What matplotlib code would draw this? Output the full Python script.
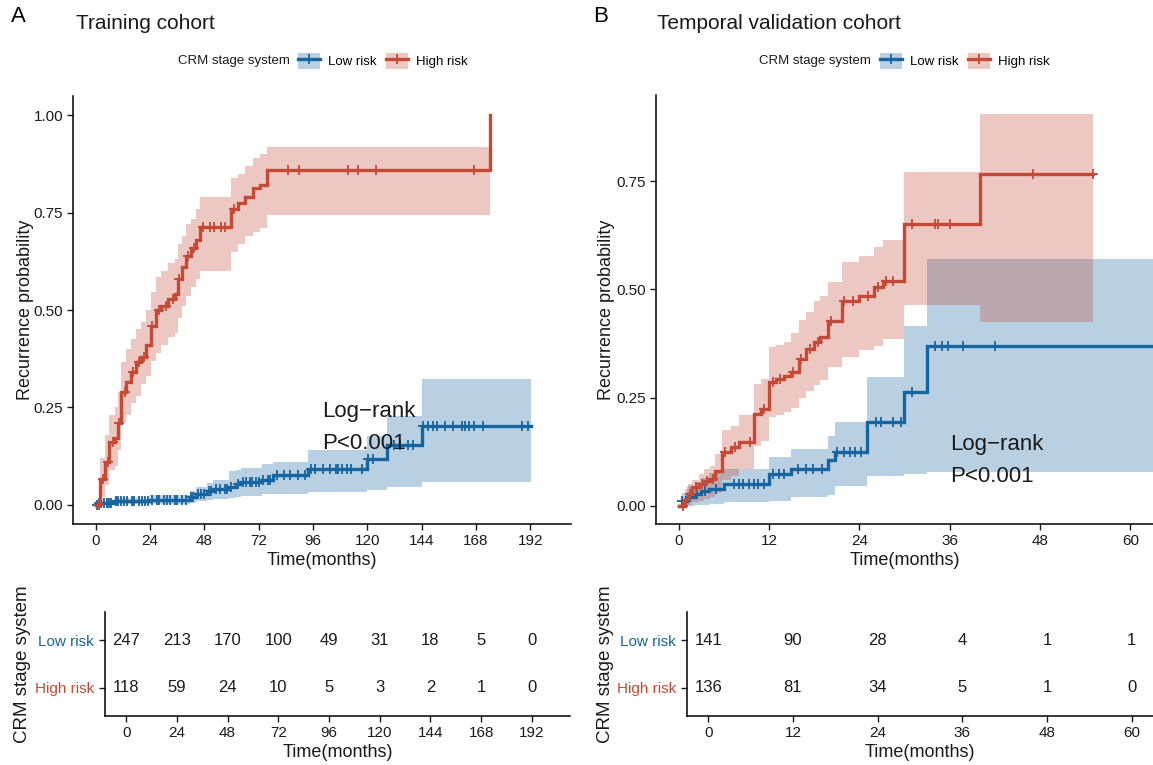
import numpy as np
import matplotlib
matplotlib.use('Agg')
import matplotlib.pyplot as plt
from matplotlib.patches import Patch
from matplotlib.lines import Line2D

plt.rcParams['font.family'] = ['Liberation Sans', 'DejaVu Sans']

BLUE = '#1665A0'
RED = '#C44A37'
INK = '#1a1a1a'

# ---- training cohort (A) ----
a_low_t = [0, 1.0, 8, 24, 41.5, 44.5, 49, 52, 59, 62, 64, 73.6, 78.5, 94, 120, 128.6, 144]
a_low_p = [0, 0.004, 0.008, 0.012, 0.02, 0.028, 0.034, 0.041, 0.046, 0.052, 0.058, 0.064, 0.075, 0.092, 0.118, 0.152, 0.202]
a_low_hi = [0, 0.011, 0.018, 0.024, 0.036, 0.046, 0.055, 0.064, 0.085, 0.09, 0.095, 0.105, 0.11, 0.141, 0.177, 0.228, 0.322]
a_low_lo = [0, 0, 0.001, 0.002, 0.005, 0.009, 0.012, 0.015, 0.016, 0.02, 0.022, 0.026, 0.028, 0.033, 0.037, 0.046, 0.059]
a_low_end = 192.5
a_low_cens = [0.5, 1.5, 2.5, 3.5, 5, 6, 7, 9, 10, 11, 12.5, 14, 16, 17, 19, 20.5, 22, 23, 25, 27, 28, 30,
              31.5, 33, 35, 36, 38, 40, 42, 43, 45, 46.5, 48, 50, 51, 53, 55, 57, 58, 60, 63, 65, 66.5, 68,
              69, 71, 72, 74, 76, 77, 80, 83, 86, 89.5, 92.5, 95, 97, 100.5, 103.5, 106, 107, 109, 111,
              113, 117.7, 120.4, 122.6, 132, 134.5, 138, 140, 144.7, 147, 149, 151, 154.4, 158, 162, 163,
              165, 167, 171, 188.5, 191]

a_high_t = [0, 1.8, 4, 6, 8.4, 9.8, 11.4, 13.6, 15.8, 18, 20, 22.4, 24.6, 26.8, 29, 32, 35, 36.4, 38, 40,
            42.3, 44.5, 46, 60, 63, 66, 69.6, 72.6, 75.5, 174.3]
a_high_p = [0, 0.066, 0.11, 0.16, 0.17, 0.21, 0.29, 0.315, 0.34, 0.366, 0.38, 0.41, 0.46, 0.50, 0.51, 0.527,
            0.54, 0.58, 0.61, 0.64, 0.66, 0.68, 0.713, 0.76, 0.775, 0.79, 0.813, 0.82, 0.86, 1.0]
a_high_hi = [0, 0.12, 0.18, 0.23, 0.25, 0.29, 0.366, 0.40, 0.425, 0.45, 0.47, 0.50, 0.545, 0.585, 0.60, 0.62,
             0.63, 0.67, 0.69, 0.72, 0.735, 0.76, 0.79, 0.84, 0.85, 0.87, 0.89, 0.90, 0.92, 0.92]
a_high_lo = [0, 0.02, 0.05, 0.09, 0.10, 0.14, 0.21, 0.23, 0.26, 0.28, 0.31, 0.33, 0.37, 0.39, 0.41, 0.43,
             0.44, 0.48, 0.51, 0.535, 0.56, 0.58, 0.60, 0.65, 0.67, 0.69, 0.70, 0.71, 0.745, 0.745]
a_high_end = 174.3
a_high_cens = [1.5, 3.2, 5.5, 7.5, 10.5, 13, 16.5, 19, 21.5, 25, 28, 31, 34, 37, 41, 43.5, 47.5, 50.5, 52.5,
               55.5, 57, 61, 85, 90, 111.5, 116, 124, 167]

a_times = [0, 24, 48, 72, 96, 120, 144, 168, 192]
a_risk_low = [247, 213, 170, 100, 49, 31, 18, 5, 0]
a_risk_high = [118, 59, 24, 10, 5, 3, 2, 1, 0]

# ---- temporal validation cohort (B) ----
b_low_t = [0, 0.5, 1.1, 2.2, 3.0, 4.0, 6.0, 12.0, 14.9, 19.9, 20.8, 25.0, 29.9, 33.0]
b_low_p = [0, 0.01, 0.02, 0.028, 0.035, 0.04, 0.05, 0.074, 0.085, 0.105, 0.125, 0.194, 0.262, 0.37]
b_low_hi = [0, 0.03, 0.045, 0.055, 0.065, 0.075, 0.085, 0.113, 0.132, 0.162, 0.194, 0.298, 0.416, 0.570]
b_low_lo = [0, 0, 0, 0.001, 0.003, 0.005, 0.009, 0.012, 0.021, 0.025, 0.045, 0.07, 0.074, 0.078]
b_low_end = 64
b_low_cens = [0.5, 1.5, 2.5, 3.5, 5, 7.3, 8, 8.6, 9.3, 10, 10.6, 11.3, 12.5, 13.3, 14, 15.8, 16.9, 17.9, 19,
              21, 22, 22.8, 23.4, 24.2, 26.2, 26.9, 28.5, 29.5, 31, 34.1, 35, 35.8, 37.8, 42]

b_high_t = [0, 0.9, 1.3, 1.8, 2.7, 3.4, 4.2, 4.9, 5.8, 6.9, 8.0, 10.0, 10.9, 12.0, 12.9, 14.0, 14.9, 16.0,
            16.9, 18.0, 18.8, 19.9, 21.7, 23.9, 25.9, 27.1, 29.9, 40.0]
b_high_p = [0, 0.016, 0.028, 0.044, 0.05, 0.058, 0.062, 0.081, 0.124, 0.136, 0.148, 0.212, 0.224, 0.286,
            0.293, 0.30, 0.309, 0.34, 0.363, 0.378, 0.39, 0.427, 0.473, 0.485, 0.505, 0.52, 0.651, 0.767]
b_high_hi = [0, 0.04, 0.05, 0.06, 0.074, 0.085, 0.092, 0.12, 0.174, 0.185, 0.209, 0.282, 0.293, 0.367, 0.372,
             0.379, 0.40, 0.43, 0.448, 0.474, 0.485, 0.517, 0.563, 0.578, 0.598, 0.613, 0.771, 0.905]
b_high_lo = [0, 0, 0.002, 0.008, 0.012, 0.016, 0.02, 0.03, 0.06, 0.07, 0.085, 0.139, 0.15, 0.205, 0.21, 0.217,
             0.225, 0.25, 0.266, 0.28, 0.29, 0.321, 0.344, 0.359, 0.37, 0.386, 0.463, 0.425]
b_high_end = 55
b_high_cens = [0.6, 1.5, 2.3, 3.1, 3.8, 4.6, 6.2, 7.5, 9.5, 11.3, 12.5, 13.5, 15.2, 16.3, 17.5, 18.5, 20.3,
               22, 23.2, 25.2, 26.5, 27.5, 28.5, 31, 34, 34.5, 36, 47, 55]

b_times = [0, 12, 24, 36, 48, 60]
b_risk_low = [141, 90, 28, 4, 1, 1]
b_risk_high = [136, 81, 34, 5, 1, 0]

groups = ['Low risk', 'High risk']


def Value_At(t, p, x):
    idx = np.searchsorted(t, x, side='right') - 1
    return np.asarray(p)[idx]


def Style_Axis(ax):
    for s in ['top', 'right']:
        ax.spines[s].set_visible(False)
    for s in ['left', 'bottom']:
        ax.spines[s].set_linewidth(1.1)
        ax.spines[s].set_color('black')
    ax.tick_params(direction='out', length=4, width=1, colors=INK, labelsize=11, pad=3)


def Curve_Plot(ax, curves, xlim, ylim, xticks, yticks, ylab_x):
    # confidence bands first, then the steps and censor marks on top
    for t, p, lo, hi, end, cens, color in curves:
        te = np.append(t, end)
        ax.fill_between(te, np.append(lo, lo[-1]), np.append(hi, hi[-1]), step='post',
                        color=color, alpha=0.3, lw=0)
    for t, p, lo, hi, end, cens, color in curves:
        te = np.append(t, end)
        ax.step(te, np.append(p, p[-1]), where='post', color=color, lw=2.4, solid_joinstyle='miter')
        ax.plot(cens, Value_At(t, p, cens), ls='none', marker='+', ms=6.5, mew=1.3, color=color)
    ax.set_xlim(*xlim)
    ax.set_ylim(*ylim)
    ax.set_xticks(xticks)
    ax.set_yticks(yticks)
    ax.set_yticklabels(['%.2f' % v for v in yticks])
    Style_Axis(ax)
    ax.set_xlabel('Time(months)', fontsize=13, color=INK)
    ax.set_ylabel('Recurrence probability', fontsize=13, color=INK)
    ax.xaxis.set_label_coords(0.5, -0.066)
    ax.yaxis.set_label_coords(ylab_x, 0.5)


def Risk_Table(ax, times, low, high, xlim, ylab_x):
    for x, n in zip(times, low):
        ax.text(x, 2, str(n), ha='center', va='center', fontsize=12, color=INK)
    for x, n in zip(times, high):
        ax.text(x, 1, str(n), ha='center', va='center', fontsize=12, color=INK)
    ax.set_xlim(*xlim)
    ax.set_ylim(0.4, 2.6)
    ax.set_xticks(times)
    ax.set_yticks([1, 2])
    ax.set_yticklabels(['High risk', 'Low risk'])
    Style_Axis(ax)
    ax.tick_params(axis='y', pad=4)
    ax.get_yticklabels()[0].set_color(RED)
    ax.get_yticklabels()[1].set_color(BLUE)
    ax.set_xlabel('Time(months)', fontsize=13, color=INK)
    ax.set_ylabel('CRM stage system', fontsize=13.5, color=INK)
    ax.xaxis.set_label_coords(0.5, -0.265)
    ax.yaxis.set_label_coords(ylab_x, 0.5)


def Legend(fig, text_x, key_x, y):
    fig.text(text_x, y, 'CRM stage system', fontsize=9.5, color=INK, ha='left', va='center')
    handles = []
    for c in [BLUE, RED]:
        handles.append((Patch(facecolor=c, alpha=0.3, lw=0),
                        Line2D([], [], color=c, lw=2.4, marker='+', ms=6.5, mew=1.3)))
    fig.legend(handles, groups, loc='center left', bbox_to_anchor=(key_x, y),
               bbox_transform=fig.transFigure, frameon=False, ncol=2, fontsize=9.5,
               borderpad=0, borderaxespad=0, handlelength=1.68, handleheight=1.6,
               handletextpad=0.6, columnspacing=0.7)


W, H = 1153, 765
fig = plt.figure(figsize=(W / 100, H / 100), dpi=100)


def box(l, t, r, b):
    return [l / W, 1 - b / H, (r - l) / W, (b - t) / H]


ax1 = fig.add_axes(box(73, 96, 571, 524))
ax2 = fig.add_axes(box(656, 95, 1153, 524))
ax3 = fig.add_axes(box(105, 612, 570, 716))
ax4 = fig.add_axes(box(687, 612, 1153, 716))

Curve_Plot(ax1,
           [(a_low_t, a_low_p, a_low_lo, a_low_hi, a_low_end, a_low_cens, BLUE),
            (a_high_t, a_high_p, a_high_lo, a_high_hi, a_high_end, a_high_cens, RED)],
           (-10, 210), (-0.05, 1.05), a_times, [0, 0.25, 0.5, 0.75, 1.0], -0.078)
ax1.text(100, 0.225, 'Log\u2212rank', fontsize=16, color=INK, va='baseline')
ax1.text(100, 0.143, 'P<0.001', fontsize=16, color=INK, va='baseline')

Curve_Plot(ax2,
           [(b_low_t, b_low_p, b_low_lo, b_low_hi, b_low_end, b_low_cens, BLUE),
            (b_high_t, b_high_p, b_high_lo, b_high_hi, b_high_end, b_high_cens, RED)],
           (-3, 63), (-0.042, 0.949), b_times, [0, 0.25, 0.5, 0.75], -0.0825)
ax2.text(36.1, 0.129, 'Log\u2212rank', fontsize=16, color=INK, va='baseline')
ax2.text(36.1, 0.056, 'P<0.001', fontsize=16, color=INK, va='baseline')

Risk_Table(ax3, a_times, a_risk_low, a_risk_high, (-10, 210), -0.159)
Risk_Table(ax4, b_times, b_risk_low, b_risk_high, (-3, 63), -0.157)

# panel letters, titles, legends
fig.text(18 / W, 1 - 16 / H, 'A', fontsize=16, ha='center', va='center', color='black')
fig.text(601 / W, 1 - 16 / H, 'B', fontsize=16, ha='center', va='center', color='black')
fig.text(76 / W, 1 - 29 / H, 'Training cohort', fontsize=15, va='baseline', color=INK)
fig.text(657 / W, 1 - 29 / H, 'Temporal validation cohort', fontsize=15, va='baseline', color=INK)
Legend(fig, 178 / W, 298 / W, 1 - 61 / H)
Legend(fig, 759 / W, 880 / W, 1 - 61 / H)

fig.savefig('out.png', dpi=100)
